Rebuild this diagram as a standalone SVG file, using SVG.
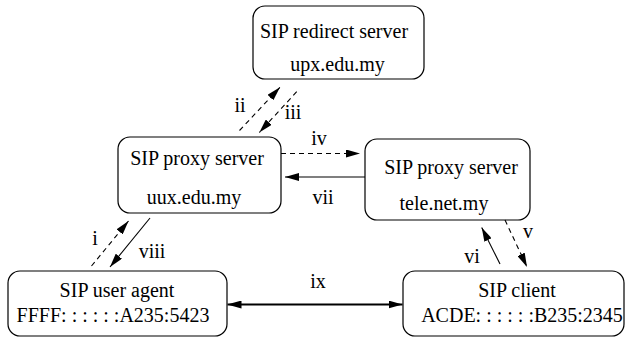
<svg xmlns="http://www.w3.org/2000/svg" width="626" height="340" viewBox="0 0 626 340">
<style>
  .box{fill:#fff;stroke:#000;stroke-width:1.2}
  .t{font-family:"Liberation Serif","Times New Roman",serif;font-size:20px;fill:#000;text-anchor:middle}
  .c{fill:none;stroke:#000;stroke-width:1.1}
  .d{stroke-dasharray:5,4}
  .thick{stroke-width:2.2}
</style>
<defs>
  <marker id="ah" markerUnits="userSpaceOnUse" viewBox="0 0 14 8" refX="14" refY="4" markerWidth="14" markerHeight="8" orient="auto">
    <path d="M0,0 L14,4 L0,8 Z" fill="#000" stroke="none"/>
  </marker>
  <marker id="ahs" markerUnits="userSpaceOnUse" viewBox="0 0 14 8" refX="14" refY="4" markerWidth="14" markerHeight="8" orient="auto-start-reverse">
    <path d="M0,0 L14,4 L0,8 Z" fill="#000" stroke="none"/>
  </marker>
</defs>
<rect width="626" height="340" fill="#fff"/>
<g id="redirect">
  <rect class="box" x="253" y="6" width="171" height="73" rx="12"/>
  <text class="t" x="334" y="38">SIP redirect server</text>
  <text class="t" x="337.5" y="71">upx.edu.my</text>
</g>
<g id="proxy-uux">
  <rect class="box" x="118" y="137" width="163" height="76" rx="12"/>
  <text class="t" x="197" y="165">SIP proxy server</text>
  <text class="t" x="194" y="204">uux.edu.my</text>
</g>
<g id="proxy-tele">
  <rect class="box" x="365" y="139" width="165" height="81" rx="12"/>
  <text class="t" x="451" y="174">SIP proxy server</text>
  <text class="t" x="444" y="210">tele.net.my</text>
</g>
<g id="user-agent">
  <rect class="box" x="8" y="271" width="219" height="65" rx="12"/>
  <text class="t" x="117" y="297">SIP user agent</text>
  <text class="t" x="113" y="322">FFFF: : : : : :A235:5423</text>
</g>
<g id="client">
  <rect class="box" x="403" y="271" width="221" height="65" rx="12"/>
  <text class="t" x="517" y="297">SIP client</text>
  <text class="t" x="522" y="322">ACDE: : : : : :B235:2345</text>
</g>
<g id="connectors">
  <line class="c d" x1="91.5" y1="266" x2="128.5" y2="221" marker-end="url(#ah)"/>
  <line class="c" x1="150" y1="218" x2="110" y2="267" marker-end="url(#ah)"/>
  <line class="c d" x1="239.5" y1="130.5" x2="280" y2="87.3" marker-end="url(#ah)"/>
  <line class="c d" x1="296.7" y1="91.7" x2="259.3" y2="132.5" marker-end="url(#ah)"/>
  <line class="c d" x1="281" y1="153.5" x2="360" y2="153.5" marker-end="url(#ah)"/>
  <line class="c" x1="365" y1="177" x2="285" y2="177" marker-end="url(#ah)"/>
  <line class="c d" x1="505" y1="220" x2="527" y2="267" marker-end="url(#ah)"/>
  <line class="c" x1="500" y1="264" x2="481.7" y2="227.5" marker-end="url(#ah)"/>
  <line class="c thick" x1="227.5" y1="304.5" x2="402.5" y2="304.5" marker-start="url(#ahs)" marker-end="url(#ahs)"/>
  <text class="t" x="240" y="112">ii</text>
  <text class="t" x="293" y="119">iii</text>
  <text class="t" x="319" y="145">iv</text>
  <text class="t" x="323" y="204">vii</text>
  <text class="t" x="95" y="245">i</text>
  <text class="t" x="152" y="258">viii</text>
  <text class="t" x="528" y="238">v</text>
  <text class="t" x="472" y="263">vi</text>
  <text class="t" x="318" y="288">ix</text>
</g>
</svg>
